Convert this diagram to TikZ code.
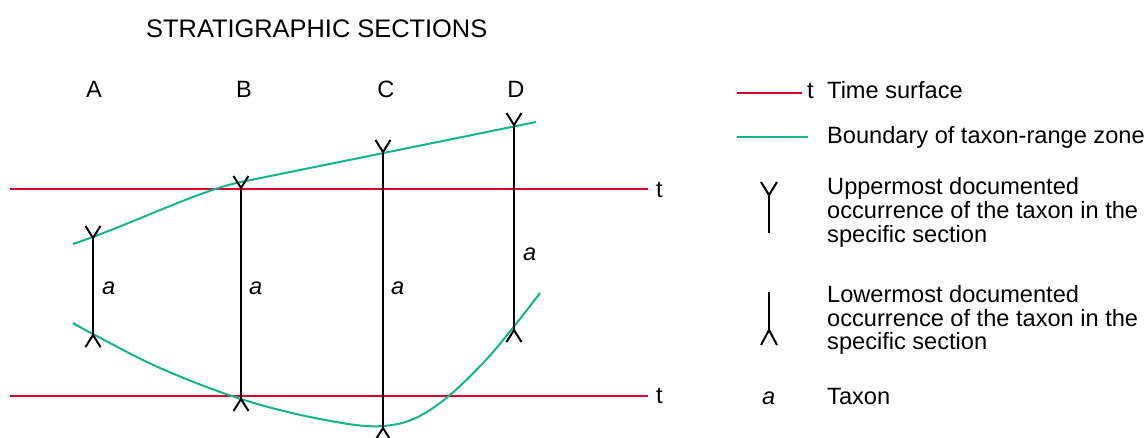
\documentclass[tikz,border=0pt]{standalone}
\usepackage{fontspec}
\setmainfont{Liberation Sans}
\definecolor{tred}{RGB}{220,0,45}
\definecolor{tgreen}{RGB}{20,180,140}
\begin{document}
\begin{tikzpicture}[x=1pt,y=-1pt,
  timeline/.style={draw=tred,line width=2pt},
  zoneline/.style={draw=tgreen,line width=2pt},
  secline/.style={draw=black,line width=2pt},
  lbl/.style={font=\fontsize{23.6}{24}\selectfont,inner sep=0pt},
  ttl/.style={font=\fontsize{25.4}{28}\selectfont,inner sep=0pt},
  tax/.style={font=\fontsize{23.6}{24}\selectfont\itshape,inner sep=0pt},
  upmark/.pic={\draw[secline,line cap=butt] (-7.5,-12) -- (0,0) -- (7.5,-12);},
  lowmark/.pic={\draw[secline,line cap=butt] (-7.5,12) -- (0,0) -- (7.5,12);}
]
\useasboundingbox (0,0) rectangle (1148,437);

% title
\node[ttl,anchor=base west] (title) at (146,37) {STRATIGRAPHIC SECTIONS};

% section labels
\node[lbl,anchor=base] (lA) at (94,97) {A};
\node[lbl,anchor=base] (lB) at (244,97) {B};
\node[lbl,anchor=base] (lC) at (386,97) {C};
\node[lbl,anchor=base] (lD) at (516,97) {D};

% time surfaces
\coordinate (t1s) at (10,189);
\coordinate (t1e) at (648,189);
\coordinate (t2s) at (10,396);
\coordinate (t2e) at (648,396);
\draw[timeline] (t1s) -- (t1e);
\draw[timeline] (t2s) -- (t2e);
\node[lbl,anchor=base west] (tt1) at (656,197) {t};
\node[lbl,anchor=base west] (tt2) at (656,403) {t};

% zone boundaries
\draw[zoneline] (73,244) .. controls (130,225) and (200,190) .. (241,182) -- (536,122);
\draw[zoneline] plot[smooth,tension=0.6] coordinates {(73,323) (93,334) (160,368) (241,399) (320,419) (383,426) (430,410) (485,361) (540,293)};

% sections
\coordinate (Atop) at (93,238);  \coordinate (Abot) at (93,335);
\coordinate (Btop) at (241,188); \coordinate (Bbot) at (241,399);
\coordinate (Ctop) at (383,152); \coordinate (Cbot) at (383,428);
\coordinate (Dtop) at (514,125); \coordinate (Dbot) at (514,330);
\foreach \s in {A,B,C,D}{
  \draw[secline] (\s top) -- (\s bot);
  \pic at (\s top) {upmark};
  \pic at (\s bot) {lowmark};
}
\node[tax,anchor=base west] (aA) at (102,294) {a};
\node[tax,anchor=base west] (aB) at (249,294) {a};
\node[tax,anchor=base west] (aC) at (391,294) {a};
\node[tax,anchor=base west] (aD) at (523,260) {a};

% legend
\coordinate (lr1) at (737,93); \coordinate (lr2) at (802,93);
\draw[timeline] (lr1) -- (lr2);
\node[lbl,anchor=base west] (lt) at (807,98) {t};
\node[lbl,anchor=base west] (ltime) at (827,98) {Time surface};

\coordinate (lg1) at (737,137); \coordinate (lg2) at (808,137);
\draw[zoneline] (lg1) -- (lg2);
\node[lbl,anchor=base west] (lbound) at (827,143) {Boundary of taxon-range zone};

\coordinate (uj) at (769,195); \coordinate (us) at (769,233);
\draw[secline] (uj) -- (us);
\draw[secline] (761,182) -- (uj) -- (777,182);
\node[lbl,anchor=base west] (lup1) at (827,194) {Uppermost documented};
\node[lbl,anchor=base west] (lup2) at (827,218) {occurrence of the taxon in the};
\node[lbl,anchor=base west] (lup3) at (827,242) {specific section};

\coordinate (ls) at (769,292); \coordinate (lj) at (769,330);
\draw[secline] (ls) -- (lj);
\draw[secline] (761,345) -- (lj) -- (777,345);
\node[lbl,anchor=base west] (llo1) at (827,302) {Lowermost documented};
\node[lbl,anchor=base west] (llo2) at (827,326) {occurrence of the taxon in the};
\node[lbl,anchor=base west] (llo3) at (827,349) {specific section};

\node[tax,anchor=base west] (la) at (762,404) {a};
\node[lbl,anchor=base west] (ltax) at (827,404) {Taxon};
\end{tikzpicture}
\end{document}
